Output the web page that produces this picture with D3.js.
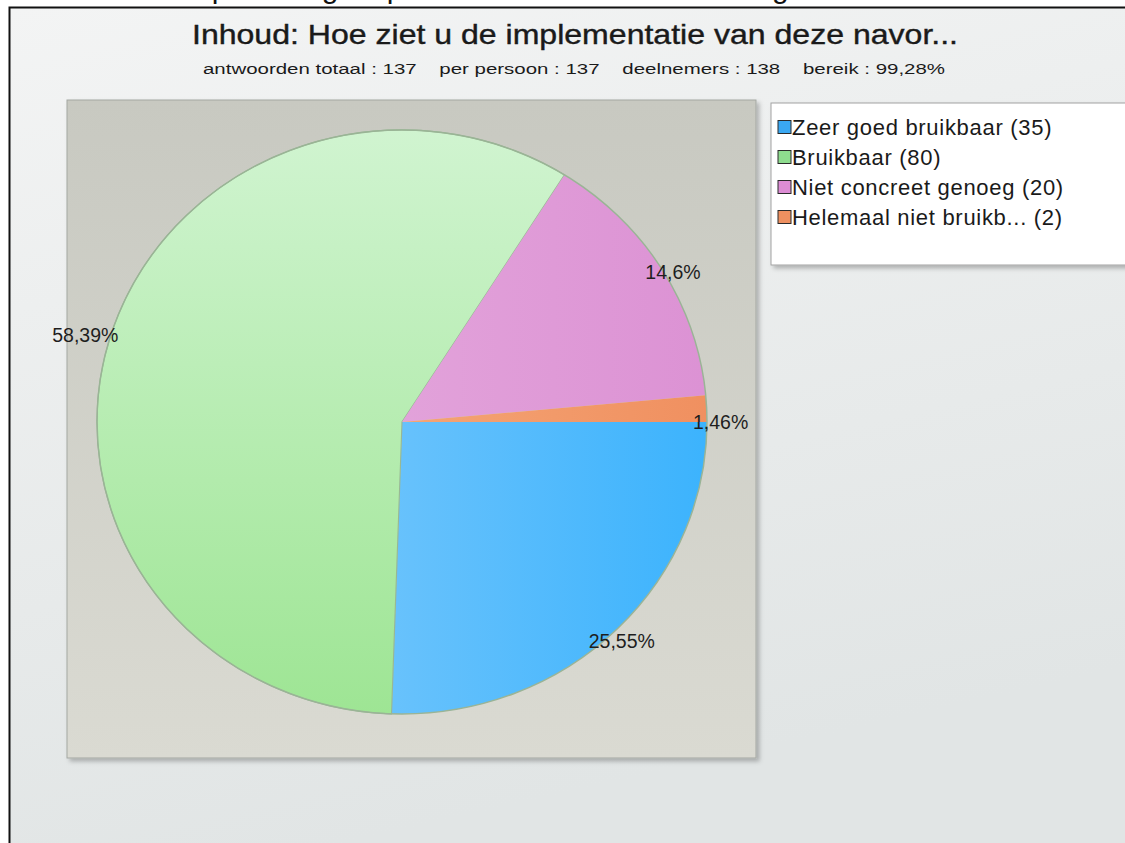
<!DOCTYPE html>
<html>
<head>
<meta charset="utf-8">
<script src="https://cdnjs.cloudflare.com/ajax/libs/d3/7.8.5/d3.min.js"></script>
<style>
  html, body { margin: 0; padding: 0; background: #fff; }
  svg { display: block; }
  text { font-family: "Liberation Sans", Arial, sans-serif; }
</style>
</head>
<body>
<div id="chart"></div>
<script>
// Data
const categories = ['Zeer goed bruikbaar', 'Bruikbaar', 'Niet concreet genoeg', 'Helemaal niet bruikb...'];
const counts = [35, 80, 20, 2];
const percentLabels = ['25,55%', '58,39%', '14,6%', '1,46%'];
const sliceColors = [['#68c2fc', '#3cb3fd'], ['#d0f4d0', '#9ee594'], ['#e2a2da', '#dc92d4'], ['#f4a474', '#f09060']];
const swatchColors = ['#3aa8f2', '#8edc8e', '#dc8cd4', '#ee9060'];

const pageTitle = 'Resultaten per vraag: implementatie van de navorming in uw school';
const chartTitle = 'Inhoud: Hoe ziet u de implementatie van deze navor...';
const statsLine = 'antwoorden totaal : 137    per persoon : 137    deelnemers : 138    bereik : 99,28%';

const W = 1125, H = 843;

const svg = d3.select('#chart').append('svg')
    .attr('width', W)
    .attr('height', H);

const defs = svg.append('defs');

// Background gradient for the chart area
const bgGrad = defs.append('linearGradient').attr('id', 'bgGrad')
    .attr('x1', 0).attr('y1', 0).attr('x2', 0.3).attr('y2', 1);
bgGrad.append('stop').attr('offset', 0).attr('stop-color', '#f3f4f4');
bgGrad.append('stop').attr('offset', 1).attr('stop-color', '#e1e5e5');

const plotGrad = defs.append('linearGradient').attr('id', 'plotGrad')
    .attr('x1', 0).attr('y1', 0).attr('x2', 0).attr('y2', 1);
plotGrad.append('stop').attr('offset', 0).attr('stop-color', '#c8c9c1');
plotGrad.append('stop').attr('offset', 1).attr('stop-color', '#dadad2');

const shadow = defs.append('filter').attr('id', 'shadow')
    .attr('x', '-5%').attr('y', '-5%').attr('width', '115%').attr('height', '115%');
shadow.append('feDropShadow')
    .attr('dx', 3).attr('dy', 3).attr('stdDeviation', 2)
    .attr('flood-color', '#000').attr('flood-opacity', 0.25);

// Slice gradients (green runs top->bottom, the others left->right)
sliceColors.forEach((c, i) => {
    const g = defs.append('linearGradient').attr('id', 'slice' + i)
        .attr('x1', 0).attr('y1', 0)
        .attr('x2', i === 1 ? 0 : 1).attr('y2', i === 1 ? 1 : 0);
    g.append('stop').attr('offset', 0).attr('stop-color', c[0]);
    g.append('stop').attr('offset', 1).attr('stop-color', c[1]);
});

// Cropped page heading above the frame
svg.append('text')
    .attr('x', 60)
    .attr('y', -2)
    .attr('font-size', 30)
    .attr('fill', '#111')
    .text(pageTitle);

// Chart frame
svg.append('rect')
    .attr('x', 10).attr('y', 7)
    .attr('width', W - 10).attr('height', H - 7)
    .attr('fill', 'url(#bgGrad)');

svg.append('path')
    .attr('d', `M9.5,${H} V7.5 H${W}`)
    .attr('fill', 'none')
    .attr('stroke', '#111')
    .attr('stroke-width', 2);

// Titles
svg.append('text')
    .attr('x', 575).attr('y', 44)
    .attr('text-anchor', 'middle')
    .attr('font-size', 28)
    .attr('fill', '#1a1a1a')
    .attr('stroke', '#1a1a1a')
    .attr('stroke-width', 0.4)
    .attr('textLength', 766)
    .attr('lengthAdjust', 'spacingAndGlyphs')
    .text(chartTitle);

svg.append('text')
    .attr('x', 574).attr('y', 74)
    .attr('text-anchor', 'middle')
    .attr('font-size', 15.5)
    .attr('fill', '#1a1a1a')
    .style('white-space', 'pre')
    .attr('textLength', 742)
    .attr('lengthAdjust', 'spacingAndGlyphs')
    .text(statsLine);

// Plot panel
const panel = { x: 67, y: 100, w: 689, h: 658 };
svg.append('rect')
    .attr('x', panel.x).attr('y', panel.y)
    .attr('width', panel.w).attr('height', panel.h)
    .attr('fill', 'url(#plotGrad)')
    .attr('stroke', '#a4a7a2')
    .attr('filter', 'url(#shadow)');

// Pie (drawn slightly wider than tall, as in the picture)
const cx = 402, cy = 422, rx = 305, ry = 292;
const pie = d3.pie().sort(null)
    .startAngle(Math.PI / 2)
    .endAngle(Math.PI / 2 + 2 * Math.PI)
    .value(d => d);
const arcs = pie(counts);
const arc = d3.arc().innerRadius(0).outerRadius(ry);

const pg = svg.append('g')
    .attr('transform', `translate(${cx},${cy}) scale(${rx / ry},1)`);

pg.selectAll('path.slice')
    .data(arcs)
    .enter()
    .append('path')
    .attr('class', 'slice')
    .attr('d', arc)
    .attr('fill', (d, i) => `url(#slice${i})`)
    .attr('stroke', (d, i) => i === 1 ? '#98b894' : 'none')
    .attr('stroke-width', 1.1);

pg.append('circle')
    .attr('r', ry)
    .attr('fill', 'none')
    .attr('stroke', '#9ab496')
    .attr('stroke-width', 1.4);

// Percentage labels at the rim
svg.append('g').selectAll('text.pct')
    .data(arcs)
    .enter()
    .append('text')
    .attr('class', 'pct')
    .attr('text-anchor', 'middle')
    .attr('font-size', 19.5)
    .attr('fill', '#1e1e1e')
    .attr('x', d => {
        const a = (d.startAngle + d.endAngle) / 2;
        return cx + rx * Math.sin(a) + 20 * Math.sin(a) - 6;
    })
    .attr('y', d => {
        const a = (d.startAngle + d.endAngle) / 2;
        const s = Math.max(0, Math.sin(a)), c = Math.max(0, Math.cos(a));
        return cy - ry * Math.cos(a) + 6 + 15 * s * (1 - 1.3 * c);
    })
    .text((d, i) => percentLabels[i]);

// Legend
const legend = svg.append('g').attr('transform', 'translate(771,103)');
legend.append('rect')
    .attr('width', 370).attr('height', 162)
    .attr('fill', '#fff')
    .attr('stroke', '#a2a2a2')
    .attr('filter', 'url(#shadow)');

const rows = legend.selectAll('g.row')
    .data(categories)
    .enter()
    .append('g')
    .attr('class', 'row')
    .attr('transform', (d, i) => `translate(7,${24 + i * 30})`);

rows.append('rect')
    .attr('width', 13).attr('height', 13)
    .attr('y', -6.5)
    .attr('fill', (d, i) => swatchColors[i])
    .attr('stroke', '#2a2a2a');

rows.append('text')
    .attr('x', 14)
    .attr('y', 8)
    .attr('font-family', '"DejaVu Sans", Verdana, sans-serif')
    .attr('font-size', 22)
    .attr('letter-spacing', 0.7)
    .attr('fill', '#1a1a1a')
    .text((d, i) => `${d} (${counts[i]})`);
</script>
</body>
</html>
